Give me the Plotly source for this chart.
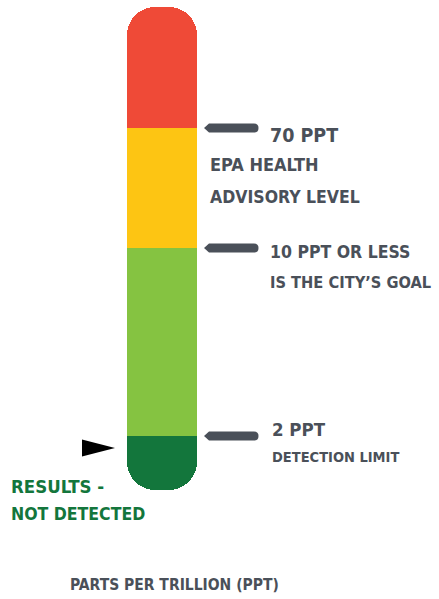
import numpy as np
import plotly.graph_objects as go

# ---------------- data ----------------
band_names = ["Not detected (below 2 PPT)", "2 to 10 PPT", "10 to 70 PPT", "Above 70 PPT"]
band_heights = [54, 188, 120, 121]          # schematic lengths of each band on the gauge
band_colors = ["#13763c", "#85c341", "#fdc513", "#ef4a37"]

threshold_titles = ["2 PPT", "10 PPT OR LESS", "70 PPT"]
threshold_notes = ["DETECTION LIMIT", "IS THE CITY\u2019S GOAL", "EPA HEALTH<br>ADVISORY LEVEL"]

result_level = -12                           # gauge position of the sample result (below detection limit)
result_lines = ["RESULTS -", "NOT DETECTED"]
axis_title = "PARTS PER TRILLION (PPT)"

# ---------------- layout helpers ----------------
W, H = 439, 599
BAR_CENTER_PX, BAR_WIDTH_PX = 162, 70
ZERO_PX = 436                                # pixel row of the detection-limit boundary

def xd(px):
    return (px - BAR_CENTER_PX) / BAR_WIDTH_PX

def yd(py):
    return ZERO_PX - py

# band values: the first band hangs below zero, the rest stack above it
band_values = [-band_heights[0]] + band_heights[1:]
bounds = np.concatenate([[0], np.cumsum(band_heights[1:])])   # 2, 10, 70 PPT boundaries and top

GRAY = "#4a5059"
GREEN = "#13763c"
FONT = "DejaVu Sans Condensed, DejaVu Sans, sans-serif"
radii = [28, 0, 0, "50%"]

fig = go.Figure()

for name, v, c, cr in zip(band_names, band_values, band_colors, radii):
    fig.add_trace(go.Bar(
        x=[0], y=[v], width=[1], name=name,
        marker=dict(color=c, line=dict(width=0), cornerradius=cr),
        hovertemplate=name + "<extra></extra>", showlegend=False,
    ))

# threshold pointers (gray arrows)
shapes = []
for yc in bounds[:3]:
    hw = 4.5
    tip, s, e, r = xd(204), xd(209), xd(254), xd(258.5)
    path = (f"M{tip},{yc} L{s},{yc+hw} L{e},{yc+hw} Q{r},{yc+hw} {r},{yc} "
            f"Q{r},{yc-hw} {e},{yc-hw} L{s},{yc-hw} Z")
    shapes.append(dict(type="path", path=path, xref="x", yref="y",
                       fillcolor=GRAY, line=dict(width=0), layer="above"))

# result pointer (black triangle)
ry = result_level
shapes.append(dict(type="path", xref="x", yref="y",
                   path=f"M{xd(82)},{ry+8.5} L{xd(115)},{ry} L{xd(82)},{ry-8.5} Z",
                   fillcolor="black", line=dict(width=0)))

annotations = []

def label(text, px, py, size, color=GRAY):
    annotations.append(dict(text=text, x=xd(px), y=yd(py), xref="x", yref="y",
                            xanchor="left", yanchor="middle", showarrow=False,
                            font=dict(family=FONT, size=size, color=color, weight="bold")))

# 70 PPT
label(threshold_titles[2], 268, 135, 19.5)
n70 = threshold_notes[2].split("<br>")
label(n70[0], 208, 164, 18)
label(n70[1], 208, 197, 17.5)
# 10 PPT
label(threshold_titles[1], 268, 252, 17.5)
label(threshold_notes[1], 268, 282, 16.3)
# 2 PPT
label(threshold_titles[0], 270, 429, 18.5)
label(threshold_notes[0], 270, 457, 14.5)
# result text
label(result_lines[0], 9, 486, 18.5, GREEN)
label(result_lines[1], 9, 514, 17.5, GREEN)
# axis title
label(axis_title, 68, 585, 15.5)

fig.update_layout(
    width=W, height=H, margin=dict(l=0, r=0, t=0, b=0),
    paper_bgcolor="white", plot_bgcolor="white",
    barmode="relative", bargap=0,
    xaxis=dict(range=[xd(0), xd(W)], visible=False, fixedrange=True),
    yaxis=dict(range=[yd(H), yd(0)], visible=False, fixedrange=True),
    shapes=shapes, annotations=annotations, showlegend=False,
)

fig.write_html("out.html", config={"displayModeBar": False},
               post_script="document.body.style.margin='0';")
